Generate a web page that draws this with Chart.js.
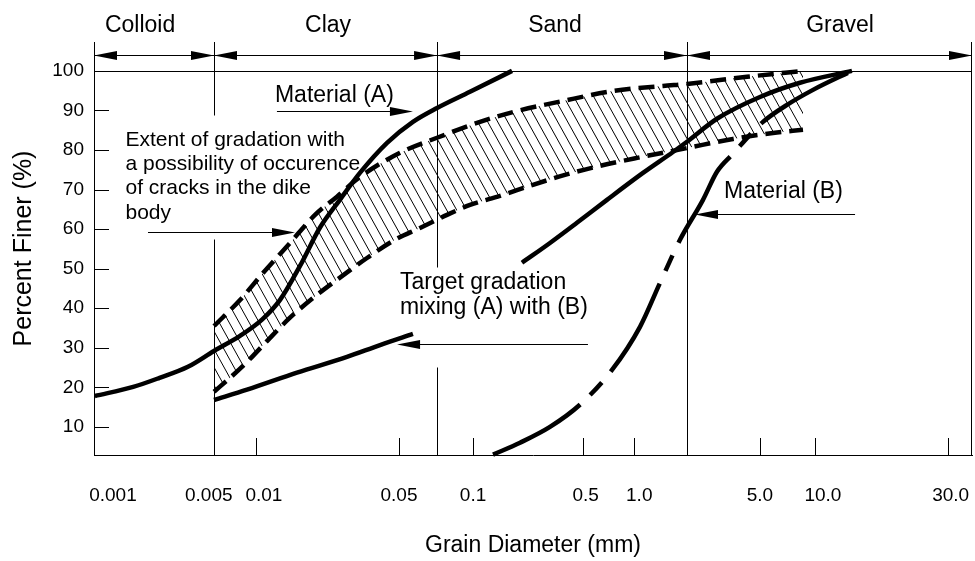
<!DOCTYPE html>
<html>
<head>
<meta charset="utf-8">
<title>Gradation curves</title>
<script src="https://cdn.jsdelivr.net/npm/chart.js@4.4.1/dist/chart.umd.min.js"></script>
<style>
  html, body { margin: 0; background: #fff; }
  #wrap { width: 975px; height: 561px; position: relative; }
</style>
</head>
<body>
<div id="wrap"><canvas id="chart"></canvas></div>
<script>
// soil classes along the top of the sheet
const zoneNames = ['Colloid', 'Clay', 'Sand', 'Gravel'];
const zoneLimits = [0.005, 0.075, 2.0];
const zoneLabelAt = [0.00154, 0.0225, 0.332, 12.3];

const xTicks = [0.001, 0.005, 0.01, 0.05, 0.1, 0.5, 1, 5, 10, 30];
const xTickLabels = ['0.001', '0.005', '0.01', '0.05', '0.1', '0.5', '1.0', '5.0', '10.0', '30.0'];
const xTickMarks = [0.01, 0.05, 0.1, 0.5, 1, 5, 10, 30];
const yTicks = [10, 20, 30, 40, 50, 60, 70, 80, 90, 100];

// Material (A)
const matADiam = [0.00075, 0.00138, 0.0021, 0.0033, 0.005, 0.00768, 0.0107, 0.01311, 0.01641, 0.02055, 0.0257, 0.0322, 0.0437, 0.058, 0.075, 0.0976, 0.177];
const matAFiner = [17.8, 20.1, 22.4, 25.2, 29.2, 33.0, 37.1, 42.1, 50.7, 60.4, 67.4, 74.2, 81.8, 87.1, 90.6, 94.7, 100];

// Material (B)
const matBDiam = [0.134, 0.199, 0.3085, 0.478, 0.742, 1.082, 1.405, 1.825, 2.445, 2.914, 3.518, 5.194, 7.028, 9.75, 13.57];
const matBFiner = [3.0, 6.0, 10.0, 15.6, 24.4, 35.3, 46.4, 57.3, 67.4, 74.5, 78.8, 87.1, 91.4, 95.2, 100];

// target gradation, broken where its label sits
const targetDiam = [0.005, 0.00862, 0.01586, 0.02784, 0.04037, 0.058, 0.1, 0.2048, 0.3085, 0.4578, 0.6929, 1.125, 1.665, 2.0, 2.914, 5.0, 8.277, 13.57];
const targetFiner = [16.8, 19.4, 23.7, 27.7, 30.7, 33.5, null, 51.5, 56.5, 61.6, 67.4, 74.2, 79.5, 82.1, 87.9, 93.4, 97.0, 100];

// extent of gradation liable to cracking (hatched band)
const upperDiam = [0.005, 0.00768, 0.01082, 0.01466, 0.01943, 0.02488, 0.03224, 0.05053, 0.075, 0.1108, 0.1796, 0.3731, 0.7516, 1.461, 2.0, 4.248, 8.597];
const upperFiner = [35.5, 42.1, 48.9, 56.5, 63.6, 68.2, 73.2, 79.3, 83.1, 87.1, 89.6, 92.4, 94.9, 96.2, 96.7, 98.5, 100];
const lowerDiam = [0.005, 0.00651, 0.00862, 0.01132, 0.01466, 0.019, 0.02488, 0.03488, 0.04779, 0.06255, 0.08124, 0.09763, 0.1484, 0.2405, 0.3842, 0.6298, 1.125, 2.0, 3.563, 5.89, 8.597];
const lowerFiner = [18.9, 22.4, 26.4, 31.7, 37.6, 42.6, 47.2, 52.7, 57.3, 60.3, 63.6, 66.1, 68.4, 71.2, 73.7, 76.0, 78.3, 80.5, 82.8, 84.3, 85.1];

// the grain-size axis of the sheet is hand drawn, not a true log scale:
// each stop pins a diameter to its place across the plot (0..1)
const axisStops = [
  [0.00074, 0], [0.001, 0.0216], [0.005, 0.1367], [0.01, 0.1845], [0.05, 0.3474],
  [0.075, 0.3907], [0.1, 0.4317], [0.5, 0.5569], [1, 0.6150], [2, 0.6754],
  [5, 0.7585], [10, 0.8212], [30, 0.9727], [36.6, 1]
];

function warp(d) {
  const l = Math.log10(d);
  let i = 0;
  while (i < axisStops.length - 2 && l > Math.log10(axisStops[i + 1][0])) i++;
  const [d0, f0] = axisStops[i], [d1, f1] = axisStops[i + 1];
  const l0 = Math.log10(d0), l1 = Math.log10(d1);
  return f0 + (l - l0) / (l1 - l0) * (f1 - f0);
}

function unwarp(f) {
  let i = 0;
  while (i < axisStops.length - 2 && f > axisStops[i + 1][1]) i++;
  const [d0, f0] = axisStops[i], [d1, f1] = axisStops[i + 1];
  const l0 = Math.log10(d0), l1 = Math.log10(d1);
  return Math.pow(10, l0 + (f - f0) / (f1 - f0) * (l1 - l0));
}

class SieveScale extends Chart.LinearScale {
  static id = 'sieve';
  getPixelForValue(value) { return this.getPixelForDecimal(warp(value)); }
  getValueForPixel(pixel) { return unwarp(this.getDecimalForPixel(pixel)); }
}
Chart.register(SieveScale);

// leading / trailing spaces, the sheet shifts a few crowded labels
const labelNudge = { 0.005: [0, 2], 0.01: [3, 0], 0.5: [1, 0], 1: [2, 0], 10: [3, 0], 30: [1, 0] };
const dividerGaps = { 0.005: [57.5, 88.9], 0.075: [25.2, 50.5] };

const notes = [
  { text: ['Material (A)'], at: [0.01238, 92.16], size: 23 },
  { text: ['Extent of gradation with', 'a possibility of occurence', 'of cracks in the dike', 'body'], at: [0.00122, 81.04], size: 21, lead: 24.3 },
  { text: ['Target gradation', 'mixing (A) with (B)'], at: [0.0505, 44.89], size: 23, lead: 25.5 },
  { text: ['Material (B)'], at: [3.182, 67.9], size: 23 }
];
const pointers = [
  { from: [0.01266, 89.89], to: [0.058, 89.89] },
  { from: [0.001747, 59.3], to: [0.01551, 59.3] },
  { from: [0.5352, 30.99], to: [0.0489, 30.99] },
  { from: [13.92, 63.85], to: [2.211, 63.85] }
];

const FONT = '"Liberation Sans", Arial, Helvetica, sans-serif';
Chart.defaults.font.family = FONT;
Chart.defaults.color = '#000';

const pts = (xs, ys) => xs.map((x, i) => ({ x, y: ys[i] }));

function hatchPattern() {
  const c = document.createElement('canvas');
  c.width = 10; c.height = 18;
  const g = c.getContext('2d');
  g.strokeStyle = '#000';
  g.lineWidth = 1;
  for (const k of [-1, 0, 1]) {
    g.beginPath();
    g.moveTo(k * 10 - 10, -18);
    g.lineTo(k * 10 + 20, 36);
    g.stroke();
  }
  return g.createPattern(c, 'repeat');
}

function head(ctx, x, y, dir, len, half) {
  ctx.beginPath();
  ctx.moveTo(x, y);
  ctx.lineTo(x - dir * len, y - half);
  ctx.lineTo(x - dir * len, y + half);
  ctx.closePath();
  ctx.fill();
}

const sketch = {
  id: 'sketch',
  beforeDatasetsDraw(chart) {
    const { ctx, chartArea: area, scales: { x, y } } = chart;
    const X = v => Math.round(x.getPixelForValue(v)) + 0.5;
    const Y = v => Math.round(y.getPixelForValue(v)) + 0.5;
    ctx.save();
    ctx.strokeStyle = '#000';
    ctx.lineWidth = 1;
    ctx.beginPath();
    ctx.moveTo(area.left, Y(100));
    ctx.lineTo(area.right, Y(100));
    for (const d of [...zoneLimits, x.max]) {
      const px = d === x.max ? Math.round(area.right) - 0.5 : X(d);
      const gap = dividerGaps[d];
      if (gap) {
        ctx.moveTo(px, area.top); ctx.lineTo(px, Y(gap[1]));
        ctx.moveTo(px, Y(gap[0])); ctx.lineTo(px, area.bottom);
      } else {
        ctx.moveTo(px, area.top); ctx.lineTo(px, area.bottom);
      }
    }
    for (const v of xTickMarks) {
      ctx.moveTo(X(v), area.bottom);
      ctx.lineTo(X(v), area.bottom - 17);
    }
    for (const v of yTicks) {
      ctx.moveTo(area.left, Y(v));
      ctx.lineTo(area.left + 15, Y(v));
    }
    ctx.stroke();
    ctx.restore();
  },
  afterDatasetsDraw(chart) {
    const { ctx, chartArea: area, scales: { x, y } } = chart;
    const X = v => x.getPixelForValue(v);
    const Y = v => Math.round(y.getPixelForValue(v)) + 0.5;
    ctx.save();
    ctx.strokeStyle = '#000';
    ctx.fillStyle = '#000';
    ctx.lineWidth = 1;

    // class arrows and names above the 100 % line
    const bounds = [x.min, ...zoneLimits, x.max];
    const bandY = Y(104.04);
    for (let i = 0; i < zoneNames.length; i++) {
      const a = i === 0 ? area.left : X(bounds[i]);
      const b = i === zoneNames.length - 1 ? area.right : X(bounds[i + 1]);
      ctx.beginPath();
      ctx.moveTo(a, bandY); ctx.lineTo(b, bandY);
      ctx.stroke();
      head(ctx, a, bandY, -1, 23, 4.5);
      head(ctx, b, bandY, 1, 23, 4.5);
      ctx.font = '23px ' + FONT;
      ctx.textAlign = 'center';
      ctx.textBaseline = 'alphabetic';
      ctx.fillText(zoneNames[i], X(zoneLabelAt[i]), y.getPixelForValue(109.86));
    }

    for (const p of pointers) {
      const x0 = X(p.from[0]), x1 = X(p.to[0]), yy = Y(p.to[1]);
      const dir = x1 > x0 ? 1 : -1;
      ctx.beginPath();
      ctx.moveTo(x0, yy); ctx.lineTo(x1 - dir * 20, yy);
      ctx.stroke();
      head(ctx, x1, yy, dir, 23, 4.5);
    }

    ctx.textAlign = 'left';
    ctx.textBaseline = 'alphabetic';
    for (const n of notes) {
      ctx.font = n.size + 'px ' + FONT;
      const x0 = X(n.at[0]), y0 = y.getPixelForValue(n.at[1]);
      n.text.forEach((t, i) => ctx.fillText(t, x0, y0 + i * (n.lead || 0)));
    }
    ctx.restore();
  }
};

const curve = (data, extra) => Object.assign({
  data, borderColor: '#000', borderWidth: 4.5, pointRadius: 0, fill: false,
  cubicInterpolationMode: 'monotone', clip: false
}, extra);

new Chart(document.getElementById('chart'), {
  type: 'line',
  data: {
    datasets: [
      curve(pts(matADiam, matAFiner), { label: 'Material (A)' }),
      curve(pts(targetDiam, targetFiner), { label: 'Target gradation' }),
      curve(pts(matBDiam, matBFiner), { label: 'Material (B)', borderDash: [101, 14, 17, 14] }),
      curve(pts(upperDiam, upperFiner), { label: 'Extent (upper)', borderDash: [16, 8], fill: '+1', backgroundColor: hatchPattern() }),
      curve(pts(lowerDiam, lowerFiner), { label: 'Extent (lower)', borderDash: [16, 8] })
    ]
  },
  options: {
    responsive: true,
    maintainAspectRatio: false,
    animation: false,
    layout: { padding: { top: 42, right: 3, left: 0, bottom: 0 } },
    plugins: { legend: { display: false }, tooltip: { enabled: false } },
    scales: {
      x: {
        type: 'sieve', min: 0.00074, max: 36.6, bounds: 'data',
        grid: { display: false, drawTicks: false },
        border: { display: true, color: '#000', width: 1 },
        ticks: {
          autoSkip: false, maxRotation: 0, padding: 29, font: { size: 19 }, color: '#000',
          callback: v => {
            const i = xTicks.indexOf(v);
            const [a, b] = labelNudge[v] || [0, 0];
            return ' '.repeat(a) + xTickLabels[i] + ' '.repeat(b);
          }
        },
        afterBuildTicks: s => { s.ticks = xTicks.map(value => ({ value })); },
        afterFit: s => { s.height = 106; s.paddingLeft = 0; s.paddingRight = 0; },
        title: { display: true, text: 'Grain Diameter (mm)', font: { size: 23 }, color: '#000', padding: { top: 0, bottom: 2 } }
      },
      y: {
        type: 'linear', min: 2.9, max: 107.3, bounds: 'data',
        grid: { display: false, drawTicks: false },
        border: { display: true, color: '#000', width: 1 },
        ticks: { autoSkip: false, padding: 10, font: { size: 19 }, color: '#000' },
        afterBuildTicks: s => { s.ticks = yTicks.map(value => ({ value })); },
        afterFit: s => { s.width = 94; s.paddingTop = 0; s.paddingBottom = 0; },
        title: { display: true, text: 'Percent Finer (%)', font: { size: 25 }, color: '#000', padding: { top: 9, bottom: 0 } }
      }
    }
  },
  plugins: [sketch]
});
</script>
</body>
</html>
